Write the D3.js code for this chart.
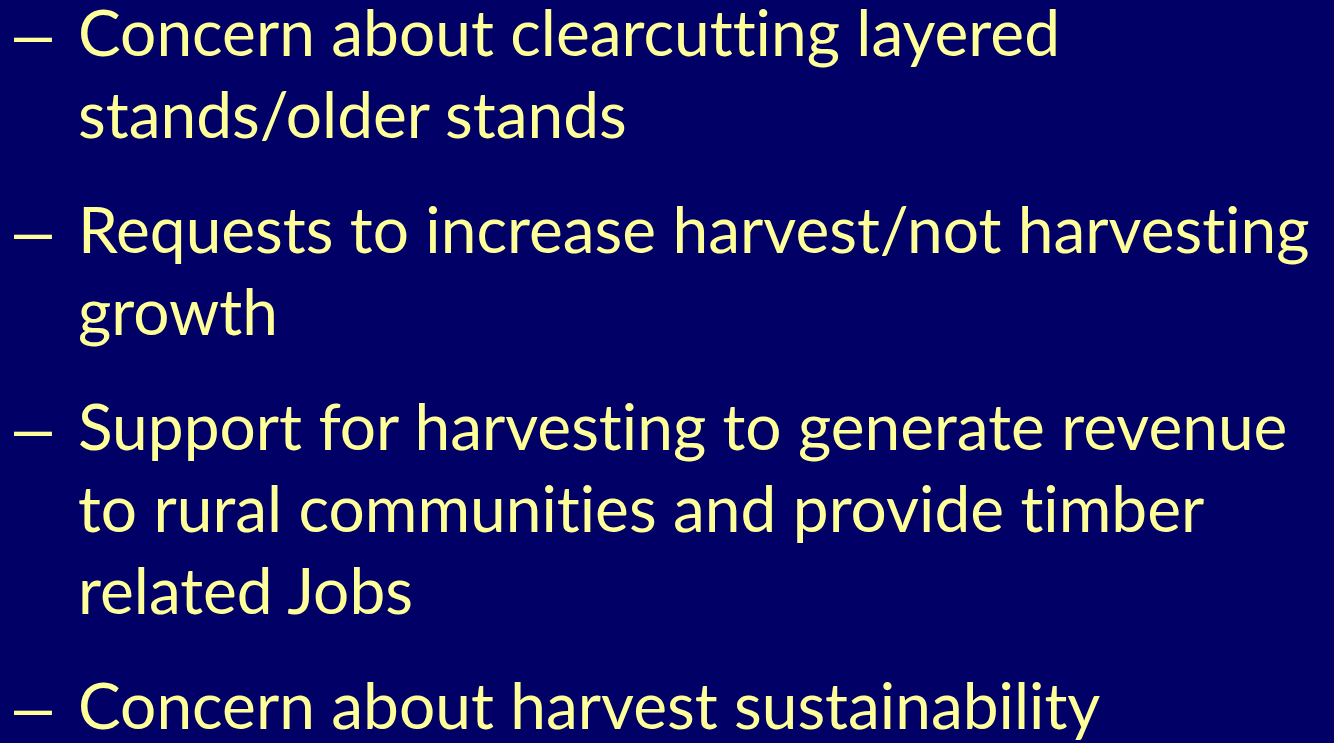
<!DOCTYPE html>
<html>
<head>
<meta charset="utf-8">
<script src="https://cdn.jsdelivr.net/npm/d3@7"></script>
<style>
  html, body { margin: 0; padding: 0; background: #000066; overflow: hidden; }
  svg { display: block; }
  text { font-variant-ligatures: none; font-feature-settings: "liga" 0, "clig" 0; }
</style>
</head>
<body>
<svg id="slide"></svg>
<script>
// slide content: one entry per bullet, each split into its wrapped lines
const bullets = [
  ['Concern about clearcutting layered', 'stands/older stands'],
  ['Requests to increase harvest/not harvesting', 'growth'],
  ['Support for harvesting to generate revenue', 'to rural communities and provide timber', 'related Jobs'],
  ['Concern about harvest sustainability']
];
const dashChar = '\u2013';

const width = 1334;
const height = 743;
const fontFamily = 'Lato, "Open Sans", sans-serif';
const fontSize = 64;
const textColor = '#ffff99';
const bgColor = '#000066';
const textX = 78;
const dashX = 15;
const dashWidth = 36;
const dashDrop = 3;       // the dash sits a bit lower than Lato puts it
// Lato's en dash ink does not fill its advance; these are in em
const dashInkLeft = 0.1;
const dashInkWidth = 0.38;
const lineStep = 82;      // baseline to baseline within a bullet
const bulletGap = 33;     // extra space between bullets
const firstBaseline = 56;

// flatten bullets into lines with a running baseline
const lines = [];
let y = firstBaseline;
bullets.forEach((b, bi) => {
  b.forEach((t, li) => {
    lines.push({text: t, first: li === 0, bullet: bi, y: y});
    y += lineStep;
  });
  y += bulletGap;
});

const svg = d3.select('#slide')
    .attr('width', width)
    .attr('height', height);

svg.append('rect')
    .attr('width', width)
    .attr('height', height)
    .attr('fill', bgColor);

const g = svg.append('g')
    .attr('font-family', fontFamily)
    .attr('font-size', fontSize)
    .attr('fill', textColor);

// dashes: stretch the glyph horizontally so it spans like the original
const sx = dashWidth / (dashInkWidth * fontSize);
const tx = dashX - dashInkLeft * fontSize * sx;
g.selectAll('.dash')
  .data(lines.filter(d => d.first))
  .enter()
  .append('text')
    .attr('class', 'dash')
    .attr('x', 0)
    .attr('y', 0)
    .attr('transform', d => `translate(${tx}, ${d.y + dashDrop}) scale(${sx}, 1)`)
    .text(dashChar);

g.selectAll('.line')
  .data(lines)
  .enter()
  .append('text')
    .attr('class', 'line')
    .attr('x', textX)
    .attr('y', d => d.y)
    .text(d => d.text);
</script>
</body>
</html>
